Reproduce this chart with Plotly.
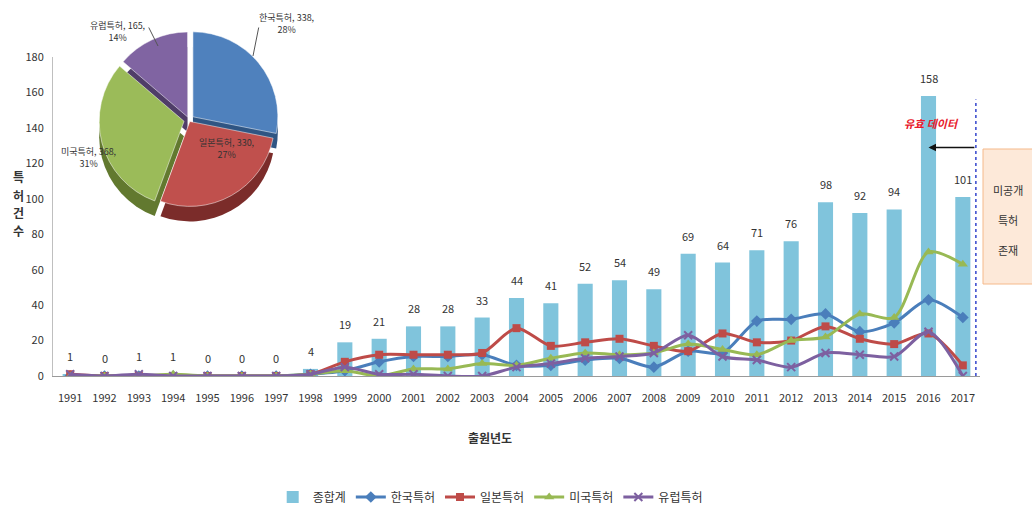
import plotly.graph_objects as go

# ---- data ----
years = list(range(1991, 2018))
total = [1, 0, 1, 1, 0, 0, 0, 4, 19, 21, 28, 28, 33, 44, 41, 52, 54, 49, 69, 64, 71, 76, 98, 92, 94, 158, 101]
korea = [0, 0, 0, 0, 0, 0, 0, 1, 3, 8, 11, 11, 12, 6, 6, 9, 10, 5, 14, 13, 31, 32, 35, 25, 30, 43, 33]
japan = [1, 0, 0, 0, 0, 0, 0, 1, 8, 12, 12, 12, 13, 27, 17, 19, 21, 17, 14, 24, 19, 20, 28, 21, 18, 24, 6]
usa = [0, 0, 0, 1, 0, 0, 0, 1, 3, 0, 4, 4, 7, 6, 10, 13, 12, 13, 18, 15, 12, 20, 22, 35, 33, 70, 63]
europe = [1, 0, 1, 0, 0, 0, 0, 1, 5, 1, 1, 0, 0, 5, 7, 10, 11, 13, 23, 11, 9, 5, 13, 12, 11, 25, 0]

pie_labels = ["한국특허", "일본특허", "미국특허", "유럽특허"]
pie_values = [338, 330, 368, 165]

FONT = "Noto Sans CJK KR"
W, H = 1032, 514

def px_x(p):
    return p / W

def px_y(p):
    return (H - p) / H

def note(x, y, text, size=11, color="#333333", **kw):
    fig.add_annotation(xref="paper", yref="paper", x=px_x(x), y=px_y(y), text=text,
                       showarrow=False, xanchor="center", yanchor="middle",
                       font=dict(size=size, color=color, family=FONT), **kw)

fig = go.Figure()

fig.add_trace(go.Bar(
    x=years, y=total, name="종합계", width=0.44,
    marker=dict(color="#80c4dc", line=dict(width=0)),
))

series = [
    ("한국특허", korea, "#4a7ebb", "diamond", 9, 0),
    ("일본특허", japan, "#be4b48", "square", 8, 0),
    ("미국특허", usa, "#98b954", "triangle-up", 9, 0),
    ("유럽특허", europe, "#7d60a0", "x-thin", 8, 2),
]
for name, vals, col, sym, size, lw in series:
    fig.add_trace(go.Scatter(
        x=years, y=vals, name=name, mode="lines+markers",
        line=dict(color=col, width=3, shape="spline", smoothing=0.8),
        marker=dict(symbol=sym, size=size, color=col, line=dict(width=lw, color=col)),
    ))

# value labels above the bars
for yr, v in zip(years, total):
    fig.add_annotation(x=yr, y=v, text=str(v), showarrow=False, yanchor="middle",
                       yshift=18, font=dict(size=11, color="#333333", family=FONT))

# pie: darker copy offset downward gives the slab depth
pull = [0.06, 0.02, 0.06, 0.04]
dx0, dx1 = px_x(99), px_x(279)
top_y0, top_y1 = px_y(210), px_y(30)
depth = 15 / H
fig.add_trace(go.Pie(
    labels=pie_labels, values=pie_values, sort=False, direction="clockwise",
    rotation=0, pull=pull, textinfo="none", hoverinfo="skip", showlegend=False,
    marker=dict(colors=["#2f5583", "#7b2c2a", "#62792f", "#4f3d68"], line=dict(width=0)),
    domain=dict(x=[dx0, dx1], y=[top_y0 - depth, top_y1 - depth]),
))
fig.add_trace(go.Pie(
    labels=pie_labels, values=pie_values, sort=False, direction="clockwise",
    rotation=0, pull=pull, textinfo="none", showlegend=False,
    marker=dict(colors=["#4f81bd", "#c0504d", "#9bbb59", "#8064a2"],
                line=dict(width=0.5, color="#ffffff")),
    domain=dict(x=[dx0, dx1], y=[top_y0, top_y1]),
))

# pie slice captions
pie_total = sum(pie_values)
cap_pos = [(286, 24), (226, 148), (88, 157), (117, 31)]
for lbl, v, (cx, cy) in zip(pie_labels, pie_values, cap_pos):
    pct = round(100 * v / pie_total)
    note(cx, cy, f"{lbl}, {v},<br>{pct}%", size=9, align="center")

# leader lines for the outside captions (offsets in pixels)
fig.add_annotation(xref="paper", yref="paper", x=px_x(253), y=px_y(56), ax=6, ay=-30,
                   showarrow=True, arrowhead=0, arrowwidth=1, arrowcolor="#555555", text="")
fig.add_annotation(xref="paper", yref="paper", x=px_x(158), y=px_y(46), ax=-10, ay=-20,
                   showarrow=True, arrowhead=0, arrowwidth=1, arrowcolor="#555555", text="")

# axis titles
note(490, 437, "<b>출원년도</b>", size=12)
for ch, yy in zip("특허건수", [176, 195, 213, 231]):
    note(18, yy, f"<b>{ch}</b>", size=12)

# cut-off marker for unpublished filings
cut_x = 2017.38
fig.add_shape(type="line", x0=cut_x, x1=cut_x, y0=0, y1=156, xref="x", yref="y",
              line=dict(color="#3344cc", width=1.5, dash="dot"))
fig.add_annotation(x=2016.0, y=129, ax=cut_x, ay=129, xref="x", yref="y", axref="x", ayref="y",
                   showarrow=True, arrowhead=2, arrowsize=1, arrowwidth=1.5, arrowcolor="#111111",
                   text="")
fig.add_annotation(x=2016.1, y=143, text="<b><i>유효 데이터</i></b>", showarrow=False,
                   font=dict(size=11, color="#e8192c", family=FONT))
fig.add_shape(type="rect", xref="paper", yref="paper", x0=px_x(983), x1=px_x(1040),
              y0=px_y(284), y1=px_y(149), fillcolor="#fde9d9",
              line=dict(color="#f5b98a", width=1), layer="below")
for txt, yy in [("미공개", 190), ("특허", 220), ("존재", 250)]:
    note(1008, yy, txt, size=11)

fig.update_layout(
    width=W, height=H,
    margin=dict(l=0, r=0, t=0, b=0),
    paper_bgcolor="white", plot_bgcolor="white",
    font=dict(family=FONT, size=11, color="#333333"),
    bargap=0.5,
    xaxis=dict(
        domain=[px_x(53), px_x(980)], range=[1990.5, 2017.5],
        tickmode="array", tickvals=years, ticktext=[str(y) for y in years],
        showgrid=False, zeroline=False, showline=True, linecolor="#9a9a9a", linewidth=1,
        ticks="", ticklabelstandoff=12, tickfont=dict(size=11, color="#333333"),
        automargin=False,
    ),
    yaxis=dict(
        domain=[px_y(376), px_y(57)], range=[0, 180], dtick=20,
        showgrid=False, zeroline=False, showline=True, linecolor="#bfbfbf", linewidth=1,
        ticks="", ticklabelstandoff=6, tickfont=dict(size=11, color="#333333"),
        automargin=False,
    ),
    legend=dict(
        orientation="h", x=0.475, xanchor="center", y=px_y(497), yanchor="middle",
        font=dict(size=12, color="#333333", family=FONT), itemwidth=30,
        traceorder="normal",
    ),
    showlegend=True,
)

fig.write_html("out.html")
